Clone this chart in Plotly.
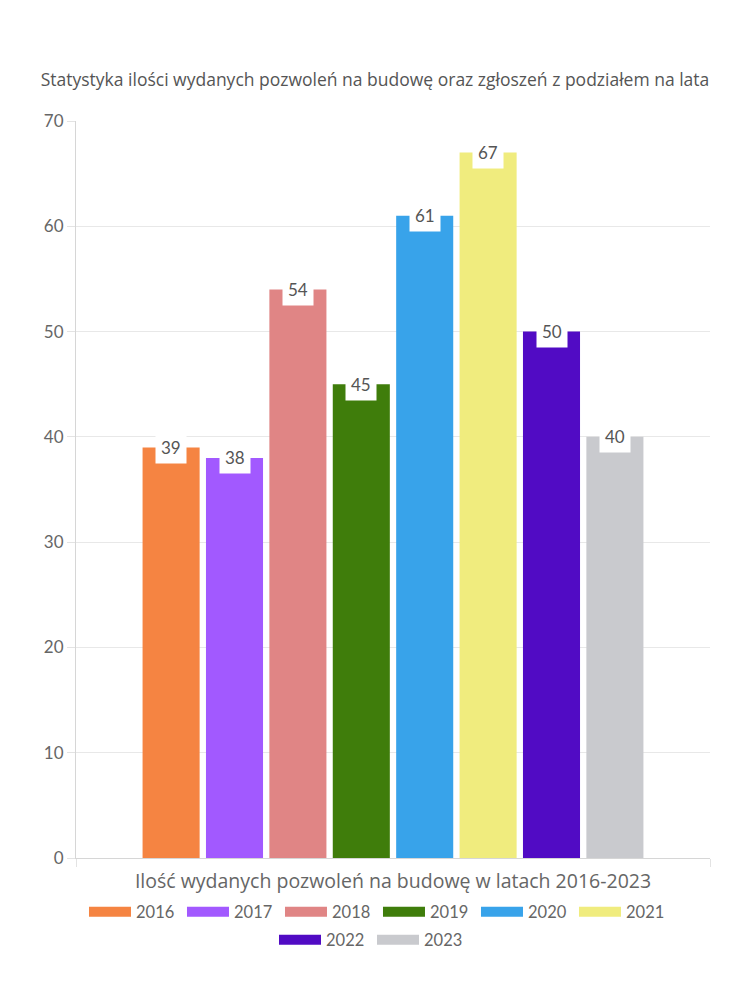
import plotly.graph_objects as go

category = ["Ilość wydanych pozwoleń na budowę w latach 2016-2023"]
years = ["2016", "2017", "2018", "2019", "2020", "2021", "2022", "2023"]
values = [39, 38, 54, 45, 61, 67, 50, 40]
colors = ["#F58442", "#A259FF", "#E08585", "#3F7D0B", "#38A3EA", "#F0EC7E", "#510BC4", "#C9CACE"]

title_text = "Statystyka ilości wydanych pozwoleń na budowę oraz zgłoszeń z podziałem na lata"

FONT = "Lato"
TFONT = "Open Sans"
bargap = 0.2
bargroupgap = 0.1

fig = go.Figure()
for i, (y, v, c) in enumerate(zip(years, values, colors)):
    fig.add_trace(go.Bar(name=y, x=category, y=[v], marker=dict(color=c, line=dict(width=0)),
                         hoverinfo="name+y", legendgroup=y, showlegend=False))
# legend entries drawn as wide swatches (thick line symbol), same names/colours as the bars
for i, (y, c) in enumerate(zip(years, colors)):
    fig.add_trace(go.Scatter(name=y, x=[None], y=[None], mode="lines",
                             line=dict(color=c, width=18), legendgroup=y, hoverinfo="skip",
                             legend="legend" if i < 6 else "legend2"))

n = len(years)
group_w = 1 - bargap
slot = group_w / n
annotations = []
for i, v in enumerate(values):
    xc = -group_w / 2 + (i + 0.5) * slot
    annotations.append(dict(x=xc, y=v, xref="x", yref="y", text=str(v), showarrow=False,
                            yanchor="middle", xanchor="center", bgcolor="white",
                            borderpad=5, font=dict(family=FONT, size=17, color="#555555")))

legend_common = dict(orientation="h", xanchor="left", yanchor="top",
                     font=dict(family=FONT, size=16.5, color="#666666"),
                     entrywidth=41, itemwidth=42,
                     traceorder="normal", bgcolor="rgba(0,0,0,0)")

fig.update_layout(
    width=750, height=1000,
    paper_bgcolor="white", plot_bgcolor="white",
    margin=dict(l=76, r=40, t=121, b=142),
    barmode="group", bargap=bargap, bargroupgap=bargroupgap,
    title=dict(text=title_text, x=0.5, xanchor="center", y=0.92, yanchor="middle",
               font=dict(family=TFONT, size=17.5, color="#555555")),
    font=dict(family=FONT, color="#666666"),
    xaxis=dict(type="category", tickson="boundaries", showgrid=True, gridcolor="#e3e3e3",
               ticks="outside", ticklen=8, tickcolor="#e3e3e3", ticklabelstandoff=6,
               showline=True, linecolor="#d6d6d6", linewidth=1,
               tickfont=dict(family=TFONT, size=19.5, color="#666666"), range=[-0.5, 0.5]),
    yaxis=dict(range=[0, 70], dtick=10, showgrid=True, gridcolor="#e8e8e8",
               ticks="outside", ticklen=8, tickcolor="#e3e3e3",
               showline=True, linecolor="#d6d6d6", linewidth=1, zeroline=False,
               tickfont=dict(family=FONT, size=17, color="#666666")),
    legend=dict(legend_common, x=0.0126, y=-0.0495),
    legend2=dict(legend_common, x=0.3123, y=-0.0875),
    annotations=annotations,
    showlegend=True,
)

fig.write_html("out.html")
